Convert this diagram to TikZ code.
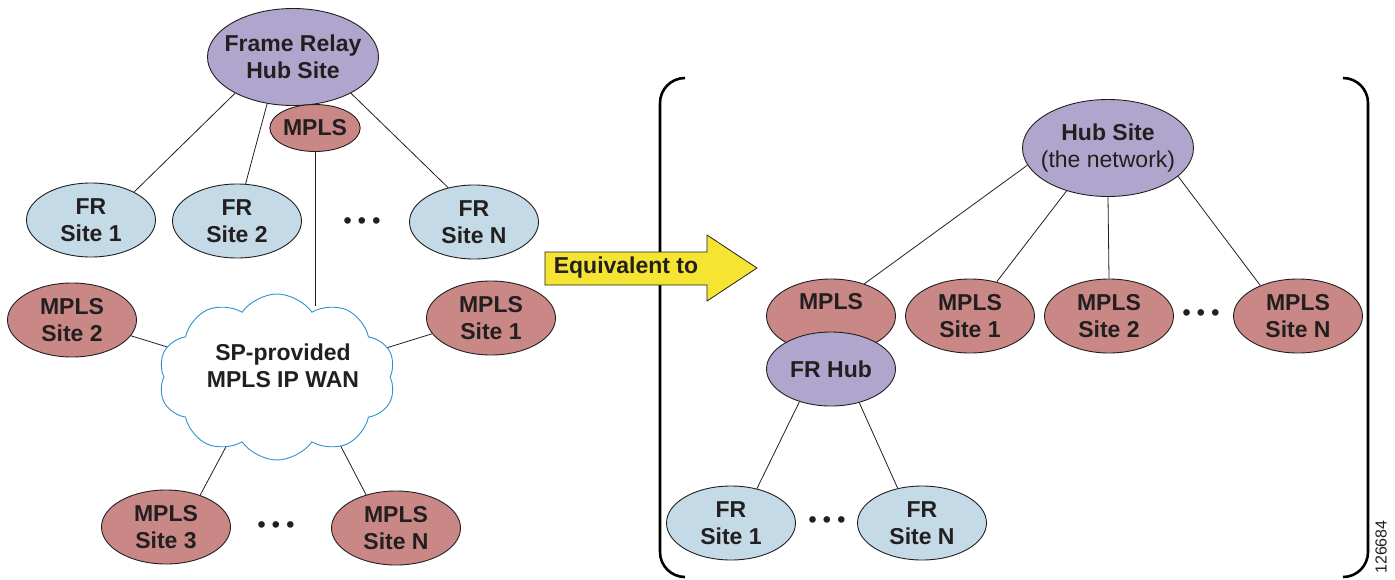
\documentclass[tikz,border=0pt]{standalone}
\usepackage{fontspec}
\setmainfont{Liberation Sans}
\usetikzlibrary{shapes.geometric,shapes.symbols}
\pgfdeclarelayer{bg}
\pgfsetlayers{bg,main}
\definecolor{hubc}{HTML}{B0A6CD}
\definecolor{mplsc}{HTML}{C98886}
\definecolor{frc}{HTML}{C4DAE6}
\definecolor{yel}{HTML}{F5E532}
\definecolor{cloudc}{HTML}{2B93CF}
\definecolor{ink}{HTML}{231F20}
\begin{document}
\begin{tikzpicture}[x=1pt,y=-1pt,
  ell/.style={ellipse, draw=ink, line width=0.9pt, inner sep=0pt,
    minimum width=129pt, minimum height=74pt, align=center,
    font=\bfseries\fontsize{23}{27}\selectfont, text=ink},
  hubell/.style={ell, fill=hubc, minimum width=171pt, minimum height=97pt, inner xsep=-10pt},
  mplsell/.style={ell, fill=mplsc},
  frell/.style={ell, fill=frc},
  txt/.style={align=center, inner sep=0pt, font=\bfseries\fontsize{23}{27}\selectfont, text=ink},
  conn/.style={draw=ink, line width=0.8pt},
  bracket/.style={draw=black, line width=2.6pt, rounded corners=25pt}]
\useasboundingbox (0,0) rectangle (1395,579);

% ---------- left side ----------
\node[hubell] (hubL) at (293,57) {Frame Relay\\Hub Site};
\node[mplsell, minimum width=83pt, minimum height=47pt] (mplsL) at (315,128) {MPLS};
\node[frell] (frL1) at (91,220) {FR\\Site 1};
\node[frell] (frL2) at (237,221) {FR\\Site 2};
\node[frell] (frLN) at (474,222) {FR\\Site N};
\node[txt] (dotsL1) at (362,223) {• • •};

\node[cloud, cloud puffs=10, cloud puff arc=110, aspect=1.43, draw=cloudc, line width=0.9pt,
      fill=white, minimum width=237pt, minimum height=166pt, inner sep=0pt] (cloud) at (277,377) {};
\node[txt] (cloudt) at (283,366) {SP-provided\\MPLS IP WAN};

\node[mplsell] (msL2) at (72,320) {MPLS\\Site 2};
\node[mplsell] (msL1) at (491,318) {MPLS\\Site 1};
\node[mplsell] (msL3) at (166,527) {MPLS\\Site 3};
\node[mplsell] (msLN) at (396,528) {MPLS\\Site N};
\node[txt] (dotsL2) at (276,527) {• • •};

\coordinate (ctop) at (315,306);
\coordinate (c2) at (190,354);
\coordinate (c1) at (370,353);
\coordinate (c3) at (236,428);
\coordinate (cN) at (336,437);

% ---------- bracket and arrow ----------
\draw[bracket] (685,78) -- (660,78) -- (660,577) -- (685,577);
\draw[bracket] (1343,78) -- (1368,78) -- (1368,577) -- (1343,577);

\draw[fill=yel, draw=ink, line width=0.8pt] (545,252) -- (707,252) -- (707,235) -- (757,268)
  -- (707,301) -- (707,285) -- (545,285) -- cycle;
\node[txt] (eq) at (626,268) {Equivalent to};

% ---------- right side ----------
\node[hubell] (hubR) at (1108,148) {Hub Site\\{\mdseries (the network)}};
\node[mplsell] (mplsR) at (831,316) {};
\node[txt] (mplsRt) at (831,302) {MPLS};
\node[frell, fill=hubc] (frhub) at (831,369) {FR Hub};
\node[mplsell] (msR1) at (970,316) {MPLS\\Site 1};
\node[mplsell] (msR2) at (1109,316) {MPLS\\Site 2};
\node[mplsell] (msRN) at (1298,316) {MPLS\\Site N};
\node[txt] (dotsR1) at (1201,315) {• • •};
\node[frell] (frR1) at (731,523) {FR\\Site 1};
\node[frell] (frRN) at (922,523) {FR\\Site N};
\node[txt] (dotsR2) at (827,522) {• • •};

\node[rotate=90, inner sep=0pt, font=\fontsize{16}{19}\selectfont, text=ink] (fig) at (1381,547) {126684};

% ---------- connectors ----------
\begin{pgfonlayer}{bg}
\draw[conn] (hubL.212) -- (frL1.33);
\draw[conn] (hubL.241) -- (frL2.77);
\draw[conn] (hubL.328) -- (frLN.127);
\draw[conn] (mplsL.south) -- (ctop);
\draw[conn] (msL2.345) -- (c2);
\draw[conn] (msL1.195) -- (c1);
\draw[conn] (msL3.43) -- (c3);
\draw[conn] (msLN.132) -- (cN);

\draw[conn] (hubR.192) -- (mplsR.44);
\draw[conn] (hubR.226) -- (msR1.52);
\draw[conn] (hubR.south) -- (msR2.north);
\draw[conn] (hubR.338) -- (msRN.141);
\draw[conn] (frhub.226) -- (frR1.53);
\draw[conn] (frhub.310) -- (frRN.125);
\end{pgfonlayer}
\end{tikzpicture}
\end{document}
